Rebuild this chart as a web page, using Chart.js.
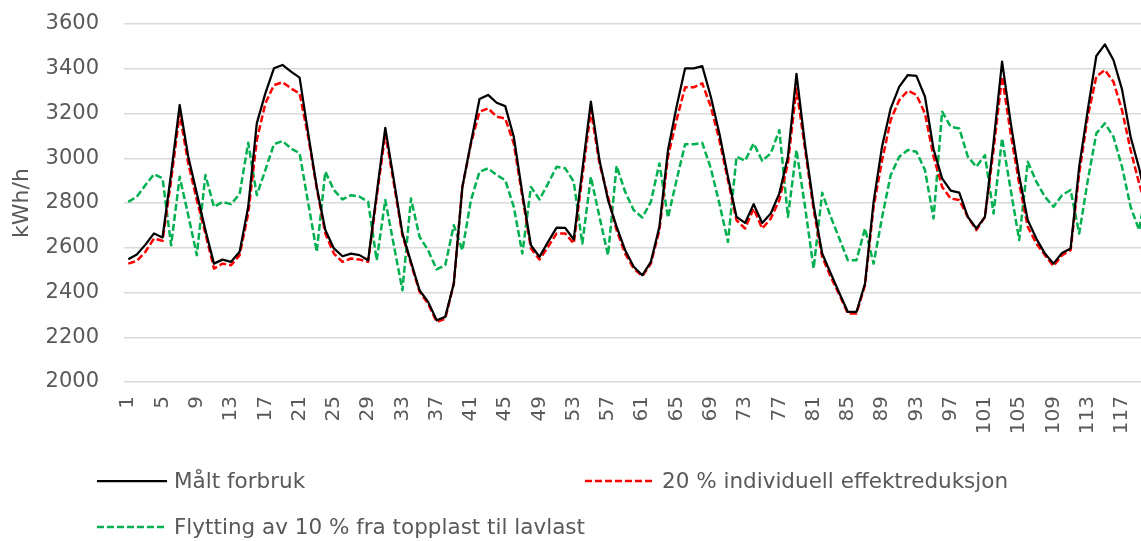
<!DOCTYPE html>
<html><head><meta charset="utf-8">
<script src="https://cdn.jsdelivr.net/npm/chart.js@4.4.0/dist/chart.umd.min.js"></script>
<style>
html,body{margin:0;padding:0;background:#fff;overflow:hidden;width:1141px;height:541px;}
#wrap{position:absolute;left:0;top:0;width:1152px;height:541px;}
#legend{position:absolute;left:0;top:0;width:1141px;height:541px;pointer-events:none;font-family:"DejaVu Sans",sans-serif;color:#595959;}
.item{position:absolute;height:24px;}
.item svg{position:absolute;left:0;top:8px;display:block;}
.item span{position:absolute;left:77px;top:0;font-size:21.5px;line-height:24px;white-space:nowrap;}
</style></head><body>
<div id="wrap"><canvas id="c" width="1152" height="541"></canvas></div>
<div id="legend"></div>
<script>
const categories = ["1","2","3","4","5","6","7","8","9","10","11","12","13","14","15","16","17","18","19","20",
"21","22","23","24","25","26","27","28","29","30","31","32","33","34","35","36","37","38","39","40",
"41","42","43","44","45","46","47","48","49","50","51","52","53","54","55","56","57","58","59","60",
"61","62","63","64","65","66","67","68","69","70","71","72","73","74","75","76","77","78","79","80",
"81","82","83","84","85","86","87","88","89","90","91","92","93","94","95","96","97","98","99","100",
"101","102","103","104","105","106","107","108","109","110","111","112","113","114","115","116","117","118","119","120"];

const maltForbruk = [2549,2570,2614,2664,2646,2932,3238,3007,2843,2679,2529,2547,2537,2582,2783,3156,3290,3402,3417,3387,
3360,3111,2872,2679,2597,2562,2574,2567,2544,2843,3136,2902,2664,2537,2410,2358,2276,2291,2440,2872,
3070,3265,3283,3248,3233,3096,2843,2611,2559,2626,2690,2689,2637,2947,3253,2992,2813,2694,2589,2515,
2477,2537,2694,3036,3230,3402,3402,3412,3275,3111,2917,2738,2711,2795,2711,2753,2843,3007,3377,3060,
2790,2574,2485,2398,2313,2313,2440,2805,3055,3223,3320,3372,3368,3275,3040,2910,2855,2846,2738,2686,
2738,3070,3432,3160,2920,2723,2641,2574,2529,2577,2597,2962,3215,3457,3509,3439,3308,3096,2955,2780];

const effektreduksjon = [2529,2541,2582,2641,2631,2902,3200,2977,2813,2664,2507,2529,2522,2567,2753,3081,3245,3327,3340,3312,
3290,3096,2865,2664,2574,2537,2552,2547,2537,2828,3111,2887,2656,2529,2403,2350,2268,2283,2440,2872,
3066,3208,3223,3186,3178,3066,2828,2597,2547,2604,2664,2664,2619,2917,3215,2977,2828,2679,2574,2507,
2473,2529,2679,3007,3171,3317,3317,3335,3230,3081,2902,2723,2686,2775,2686,2731,2813,2977,3312,3040,
2770,2559,2470,2390,2306,2306,2432,2783,2992,3171,3260,3302,3283,3200,3007,2872,2820,2813,2738,2679,
2738,3037,3365,3111,2887,2693,2619,2567,2518,2567,2589,2932,3186,3365,3394,3342,3215,3037,2887,2760];

const flytting = [2805,2828,2880,2929,2910,2611,2917,2745,2567,2925,2783,2805,2795,2840,3069,2835,2947,3063,3077,3044,
3022,2800,2582,2940,2858,2816,2835,2828,2805,2544,2813,2611,2410,2820,2649,2589,2503,2522,2701,2589,
2813,2940,2955,2925,2902,2783,2574,2872,2816,2887,2962,2955,2895,2619,2917,2738,2567,2966,2850,2768,
2735,2805,2977,2735,2902,3063,3063,3069,2955,2798,2626,3007,2989,3066,2989,3022,3126,2738,3037,2783,
2507,2846,2738,2641,2544,2544,2686,2529,2738,2925,3007,3037,3029,2947,2731,3208,3141,3133,3007,2962,
3014,2753,3089,2860,2634,2984,2895,2828,2783,2835,2858,2664,2900,3111,3156,3096,2962,2783,2679,2900];

const seriesNames = ["Målt forbruk","20 % individuell effektreduksjon","Flytting av 10 % fra topplast til lavlast"];
const yTicks = {min:2000, max:3600, step:200};
const axisTitle = "kWh/h";

const textColor = '#595959';
const fontFamily = '"DejaVu Sans", sans-serif';

function zeroPadding(s) { s.paddingTop = 0; s.paddingBottom = 0; s.paddingLeft = 0; s.paddingRight = 0; }

const chart = new Chart(document.getElementById('c'), {
  type: 'line',
  data: {
    labels: categories,
    datasets: [
      {label: seriesNames[0], data: maltForbruk, borderColor: '#000000', backgroundColor: '#000000', borderWidth: 2.25, borderDash: []},
      {label: seriesNames[1], data: effektreduksjon, borderColor: '#FF0000', backgroundColor: '#FF0000', borderWidth: 2.5, borderDash: [7,3]},
      {label: seriesNames[2], data: flytting, borderColor: '#00B050', backgroundColor: '#00B050', borderWidth: 2.5, borderDash: [7,3]}
    ]
  },
  options: {
    responsive: false,
    animation: false,
    layout: {padding: {top: 24, left: 0, right: 0, bottom: 0}},
    plugins: {legend: {display: false}, tooltip: {enabled: false}},
    elements: {point: {radius: 0}, line: {tension: 0, borderCapStyle: 'butt', borderJoinStyle: 'round'}},
    scales: {
      x: {
        offset: true,
        grid: {display: false, drawTicks: false},
        border: {display: false},
        ticks: {
          autoSkip: false, maxRotation: 90, minRotation: 90, padding: 14,
          color: textColor, font: {family: fontFamily, size: 20},
          callback: function(v, i) { return i % 4 === 0 ? this.getLabelForValue(v) : ''; }
        },
        afterFit: s => { s.height = 159; zeroPadding(s); }
      },
      y: {
        min: yTicks.min, max: yTicks.max,
        ticks: {stepSize: yTicks.step, padding: 25, color: textColor, font: {family: fontFamily, size: 21},
          callback: v => String(v)},
        grid: {color: '#d9d9d9', lineWidth: 1.5, drawTicks: false},
        border: {display: false},
        title: {display: true, text: axisTitle, color: textColor, font: {family: fontFamily, size: 22}, padding: {top: 9, bottom: 0}},
        afterFit: s => { s.width = 124; zeroPadding(s); }
      }
    }
  }
});

// HTML legend built from the chart's datasets
const legendPos = [{left: 97, top: 469}, {left: 585, top: 469}, {left: 97, top: 515}];
const legendEl = document.getElementById('legend');
chart.data.datasets.forEach((ds, i) => {
  const item = document.createElement('div');
  item.className = 'item';
  item.style.left = legendPos[i].left + 'px';
  item.style.top = legendPos[i].top + 'px';
  const ns = 'http://www.w3.org/2000/svg';
  const svg = document.createElementNS(ns, 'svg');
  svg.setAttribute('width', '70'); svg.setAttribute('height', '8');
  const ln = document.createElementNS(ns, 'line');
  ln.setAttribute('x1', '0'); ln.setAttribute('y1', '4'); ln.setAttribute('x2', '70'); ln.setAttribute('y2', '4');
  ln.setAttribute('stroke', ds.borderColor); ln.setAttribute('stroke-width', ds.borderWidth);
  if (ds.borderDash && ds.borderDash.length) ln.setAttribute('stroke-dasharray', ds.borderDash.join(' '));
  svg.appendChild(ln);
  const span = document.createElement('span');
  span.textContent = ds.label;
  item.appendChild(svg); item.appendChild(span);
  legendEl.appendChild(item);
});
</script>
</body></html>
